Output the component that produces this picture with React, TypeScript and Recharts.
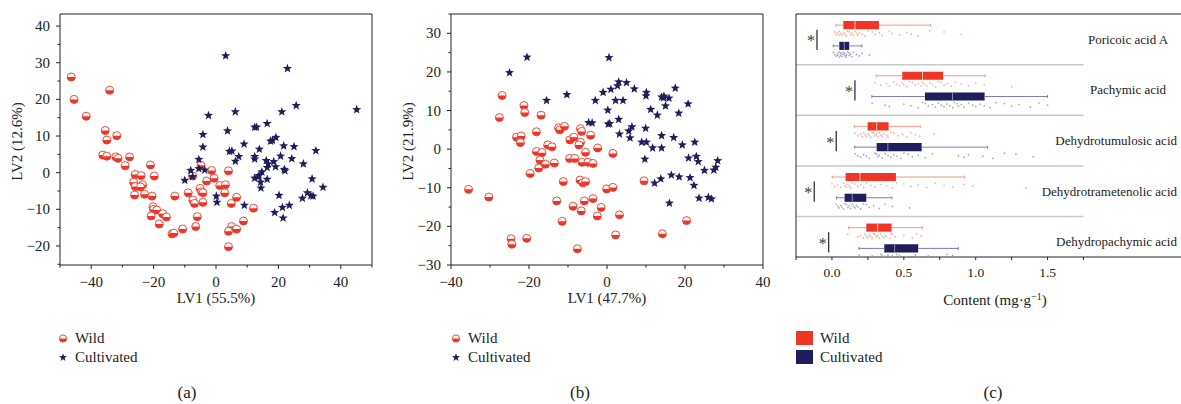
import { ScatterChart, Scatter, XAxis, YAxis, ReferenceLine, ReferenceArea } from 'recharts';

// PLS-DA scores, panel (a): [LV1, LV2]
const wildA: [number, number][] = [
  [-46.4, 26.1], [-45.5, 20], [-41.6, 15.4], [-34.1, 22.5], [-35.5, 11.5], [-35.0, 8.9], [-31.8, 10.1],
  [-36.3, 4.8], [-35.0, 4.5], [-32.1, 4.3], [-31.4, 3.9], [-27.7, 4.3], [-29.1, 1.9], [-21.0, 2.1],
  [-25.9, -0.5], [-24.0, -0.8], [-19.8, -0.9], [-26.4, -2.6], [-25.9, -3.8], [-23.5, -3.3], [-24.2, -3.9],
  [-26.1, -6.1], [-22.9, -5.9], [-20.5, -6.4], [-20.2, -9.3], [-20.0, -10], [-19.0, -10.2], [-20.8, -11.8],
  [-17.1, -11.2], [-15.9, -12.1], [-18.2, -14.0], [-14.1, -16.7], [-13.5, -16.5], [-10.7, -15.4],
  [-13.2, -6.4], [-8.9, -5.5], [-7.4, -7.5], [-6.9, -8.4], [-7.5, -0.9], [-6.0, -12.0], [-6.5, -14.7],
  [-4.8, 2.0], [-5.1, -4.3], [-4.6, -5.2], [-4.2, -5.5], [-4.2, -8.1], [-3.0, -2.3], [-1.4, 0.6],
  [-0.6, -1.5], [1.2, -3.5], [3.0, -3.3], [2.8, -5.5], [4.0, 0.5], [4.9, -8.4], [6.6, -6.7],
  [5.0, -14.7], [4.0, -16.0], [6.6, -15.4], [4.0, -20.2], [8.8, -13.2], [12.0, -9.7],
];
const cultA: [number, number][] = [
  [3.1, 31.9], [22.9, 28.4], [45.1, 17.2], [25.7, 18.3], [21.1, 16.6], [6.2, 16.6], [-2.4, 15.6],
  [16.4, 13.4], [12.4, 12.4], [13.0, 12.4], [3.7, 11.4], [-4.2, 10.4], [-4.2, 7.0], [4.3, 5.8],
  [5.1, 5.9], [9.0, 7.8], [17.5, 8.6], [18.1, 8.8], [19.2, 9.6], [21.7, 7.3], [25.0, 7.1], [32.0, 6.0],
  [13.9, 6.4], [7.3, 4.4], [6.2, 3.1], [12.4, 4.4], [12.4, 3.7], [20.7, 4.5], [24.3, 3.8], [16.1, 3.3],
  [16.7, 2.4], [18.5, 3.0], [16.4, 1.4], [19.1, 1.6], [21.9, 0.9], [22.1, 0.5], [28.0, 2.4], [14.7, 0.2],
  [13.8, -0.8], [13.4, -1.2], [12.4, -1.5], [16.4, -1.8], [14.3, -2.6], [14.4, -4.2], [30.8, -1.7],
  [34.3, -4.0], [29.3, -5.5], [30.4, -6.3], [31.1, -6.4], [27.7, -7.0], [20.2, -6.2], [23.5, -8.9],
  [21.3, -9.5], [18.8, -10.9], [21.5, -12.4], [9.1, -8.9], [0.1, -6.4], [0.3, -8.1], [-3.6, 0.7],
  [-5.5, 1.1], [-8.1, 0.6], [-7.5, -1.1], [-10.0, -2.1], [-5.5, 3.6],
];

// panel (b)
const wildB: [number, number][] = [
  [-26.9, 13.9], [-27.6, 8.2], [-35.5, -10.4], [-30.3, -12.4], [-21.3, 11.3], [-21.1, 9.5], [-16.9, 8.8],
  [-23.2, 3.1], [-22.0, 3.4], [-22.2, 1.7], [-18.1, 4.5], [-18.1, -0.6], [-16.7, -0.9], [-17.2, -2.8],
  [-17.5, -4.9], [-15.8, -3.9], [-19.7, -6.3], [-15.2, 1.1], [-14.1, 0.6], [-13.5, -3.6], [-12.4, 5.5],
  [-12.1, 5.0], [-10.9, 5.9], [-9.5, 2.4], [-8.5, 3.1], [-9.6, -2.4], [-8.3, -2.4], [-6.8, 5.3],
  [-6.5, 4.6], [-6.8, 1.8], [-7.2, 1.1], [-6.4, -3.4], [-4.9, -3.4], [-3.6, -3.7], [-4.2, 3.6],
  [-5.5, -0.8], [-2.4, 0.3], [1.5, -1.1], [-11.2, -8.4], [-6.9, -8.0], [-6.2, -8.7], [-5.5, -8.4],
  [-0.1, -10.3], [1.5, -9.9], [9.5, -8.2], [-12.9, -13.4], [-8.7, -14.8], [-5.8, -13.4], [-3.6, -12.8],
  [-1.5, -15.1], [-6.6, -16.0], [-11.5, -18.7], [-2.5, -17.3], [3.2, -17.0], [-24.6, -23.2],
  [-24.4, -24.6], [-20.6, -23.1], [-7.6, -25.8], [2.2, -22.2], [14.2, -21.9], [20.4, -18.5],
];
const cultB: [number, number][] = [
  [-25.0, 19.8], [-20.5, 23.8], [-15.5, 12.6], [-10.3, 14.1], [0.5, 23.7], [-3.0, 12.6], [-1.0, 14.7],
  [1.0, 15.5], [2.7, 16.4], [3.0, 17.4], [5.0, 17.2], [7.0, 15.6], [10.1, 14.7], [10.0, 13.8],
  [0.2, 10.1], [2.2, 12.6], [4.1, 12.6], [-4.7, 6.9], [-3.8, 6.8], [0.3, 6.5], [0.7, 6.6], [3.0, 7.7],
  [3.2, 3.9], [5.6, 4.7], [6.4, 5.8], [5.9, 2.9], [9.9, 5.4], [11.2, 10.3], [12.9, 8.8], [14.0, 13.5],
  [14.5, 13.3], [14.6, 13.7], [15.9, 13.2], [15.0, 11.2], [17.5, 15.8], [18.4, 9.3], [20.8, 11.7],
  [8.9, 1.8], [10.1, 1.8], [11.7, 0.3], [14.0, 3.5], [14.0, 0.3], [17.1, 3.0], [19.3, 1.1], [22.5, 1.8],
  [9.7, -2.6], [20.9, -2.3], [22.9, -1.9], [23.4, -3.2], [28.4, -3.0], [27.9, -4.7], [27.4, -5.4],
  [25.0, -5.5], [12.2, -8.8], [13.8, -7.7], [16.5, -6.7], [18.5, -7.2], [21.3, -7.4], [22.3, -9.4],
  [23.6, -12.7], [26.0, -12.5], [26.8, -12.9], [16.0, -14.0],
];

const aXTicks = [-50, -40, -30, -20, -10, 0, 10, 20, 30, 40, 50];
const aYTicks = [-25, -20, -15, -10, -5, 0, 5, 10, 15, 20, 25, 30, 35, 40];
const bXTicks = [-40, -30, -20, -10, 0, 10, 20, 30, 40];
const bYTicks = [-30, -25, -20, -15, -10, -5, 0, 5, 10, 15, 20, 25, 30, 35];

// panel (c): content, mg/g
const compounds = ['Poricoic acid A', 'Pachymic acid', 'Dehydrotumulosic acid', 'Dehydrotrametenolic acid', 'Dehydropachymic acid'];
// [min, q1, median, q3, max]
const wildStats = [
  [0.028, 0.079, 0.16, 0.327, 0.686],
  [0.308, 0.489, 0.63, 0.774, 1.066],
  [0.158, 0.248, 0.311, 0.394, 0.614],
  [0.002, 0.095, 0.195, 0.445, 0.923],
  [0.116, 0.239, 0.318, 0.415, 0.628],
];
const cultStats = [
  [0.009, 0.051, 0.086, 0.12, 0.209],
  [0.278, 0.647, 0.839, 1.062, 1.5],
  [0.158, 0.311, 0.389, 0.624, 1.083],
  [0.032, 0.088, 0.141, 0.239, 0.417],
  [0.188, 0.364, 0.436, 0.6, 0.879],
];
const wildSamples = [
  [0.02, 0.03, 0.04, 0.05, 0.05, 0.06, 0.07, 0.08, 0.09, 0.1, 0.11, 0.12, 0.13, 0.14, 0.15, 0.16, 0.17, 0.18, 0.19, 0.21, 0.23, 0.25, 0.28, 0.3, 0.33, 0.35, 0.4, 0.42, 0.47, 0.52, 0.55, 0.6, 0.68, 0.78, 0.9],
  [0.3, 0.34, 0.38, 0.4, 0.43, 0.45, 0.47, 0.49, 0.5, 0.52, 0.54, 0.56, 0.58, 0.6, 0.62, 0.63, 0.64, 0.66, 0.68, 0.7, 0.72, 0.74, 0.76, 0.78, 0.8, 0.83, 0.86, 0.9, 0.95, 1.0, 1.06, 1.25],
  [0.16, 0.18, 0.2, 0.21, 0.22, 0.23, 0.24, 0.25, 0.26, 0.27, 0.28, 0.29, 0.3, 0.31, 0.32, 0.33, 0.34, 0.35, 0.36, 0.38, 0.39, 0.41, 0.43, 0.46, 0.49, 0.52, 0.55, 0.58, 0.61, 0.71],
  [0.0, 0.02, 0.04, 0.06, 0.08, 0.09, 0.1, 0.11, 0.12, 0.13, 0.14, 0.16, 0.18, 0.2, 0.22, 0.24, 0.27, 0.3, 0.34, 0.38, 0.42, 0.45, 0.5, 0.55, 0.6, 0.66, 0.72, 0.78, 0.84, 0.92, 0.98, 1.35],
  [0.11, 0.18, 0.2, 0.22, 0.23, 0.24, 0.25, 0.26, 0.27, 0.28, 0.29, 0.3, 0.31, 0.32, 0.33, 0.34, 0.35, 0.36, 0.37, 0.38, 0.4, 0.41, 0.42, 0.44, 0.5, 0.56, 0.59, 0.62],
];
const cultSamples = [
  [0.01, 0.02, 0.03, 0.04, 0.04, 0.05, 0.05, 0.06, 0.06, 0.07, 0.07, 0.08, 0.08, 0.09, 0.09, 0.1, 0.1, 0.11, 0.12, 0.12, 0.13, 0.14, 0.15, 0.17, 0.19, 0.21, 0.26],
  [0.28, 0.37, 0.4, 0.5, 0.55, 0.6, 0.63, 0.65, 0.67, 0.7, 0.72, 0.74, 0.76, 0.78, 0.8, 0.82, 0.84, 0.85, 0.87, 0.88, 0.9, 0.92, 0.95, 0.98, 1.0, 1.03, 1.06, 1.1, 1.14, 1.2, 1.25, 1.3, 1.38, 1.44, 1.5],
  [0.16, 0.18, 0.2, 0.22, 0.24, 0.26, 0.3, 0.31, 0.32, 0.33, 0.35, 0.37, 0.39, 0.41, 0.43, 0.45, 0.48, 0.5, 0.53, 0.56, 0.6, 0.65, 0.7, 0.88, 0.92, 0.95, 1.05, 1.12, 1.2, 1.28, 1.4],
  [0.03, 0.04, 0.05, 0.06, 0.07, 0.08, 0.09, 0.1, 0.11, 0.12, 0.13, 0.14, 0.15, 0.16, 0.17, 0.18, 0.2, 0.22, 0.24, 0.26, 0.29, 0.33, 0.37, 0.42, 0.54],
  [0.19, 0.22, 0.26, 0.28, 0.3, 0.32, 0.34, 0.35, 0.36, 0.37, 0.38, 0.39, 0.4, 0.41, 0.42, 0.43, 0.44, 0.45, 0.47, 0.5, 0.52, 0.55, 0.58, 0.6, 0.63, 0.67, 0.72, 0.76, 0.8, 0.84, 0.88],
];
// x of the significance bracket for each compound
const sigX = [-0.104, 0.16, 0.03, -0.123, -0.023];
const cXTicks = [-0.25, 0, 0.25, 0.5, 0.75, 1, 1.25, 1.5, 1.75];

const FONT = '"Liberation Serif", "Times New Roman", serif';
const RED = '#ee3526';
const NAVY = '#1f1d5c';
const INK = '#222';

// row layout inside each compound section (section = 1 y unit)
const WILD_ROW = 0.22;
const WILD_PTS = 0.385;
const CULT_ROW = 0.63;
const CULT_PTS = 0.8;
const BOX_H = 0.08;
const JITTER = [-0.03, 0.02, -0.01, 0.04, -0.04, 0.0, 0.03, -0.02, 0.01, 0.05, -0.05];

const fmt = (v: number) => String(v).replace('-', '\u2212');

function makeXTick(isMajor: (v: number) => boolean, label: (v: number) => string, fontSize: number, majorLen: number, minorLen: number, dy: number) {
  return (p: any) => {
    const { x, y, payload } = p;
    const v = payload.value;
    const m = isMajor(v);
    return (
      <g>
        <line x1={x} y1={y} x2={x} y2={y + (m ? majorLen : minorLen)} stroke={INK} strokeWidth={1} />
        {m && (
          <text x={x} y={y + dy} textAnchor="middle" fontSize={fontSize} fontFamily={FONT} fill={INK}>
            {label(v)}
          </text>
        )}
      </g>
    );
  };
}

function makeYTick(isMajor: (v: number) => boolean) {
  return (p: any) => {
    const { x, y, payload } = p;
    const v = payload.value;
    const m = isMajor(v);
    return (
      <g>
        <line x1={x} y1={y} x2={x - (m ? 4 : 2.5)} y2={y} stroke={INK} strokeWidth={1} />
        {m && (
          <text x={x - 10} y={y + 5} textAnchor="end" fontSize={15} fontFamily={FONT} fill={INK}>
            {fmt(v)}
          </text>
        )}
      </g>
    );
  };
}

function HalfCircle(p: any) {
  const { cx, cy } = p;
  if (cx == null || cy == null) return <g />;
  const r = p.r ?? 4;
  return (
    <g>
      <circle cx={cx} cy={cy} r={r} fill="#fff" stroke={RED} strokeWidth={0.9} />
      <path d={`M${cx - r},${cy} A${r},${r} 0 0 0 ${cx + r},${cy} Z`} fill={RED} />
    </g>
  );
}

function starPoints(cx: number, cy: number, ro: number, ri: number) {
  const pts: string[] = [];
  for (let k = 0; k < 10; k++) {
    const a = (-90 + k * 36) * (Math.PI / 180);
    const r = k % 2 === 0 ? ro : ri;
    pts.push(`${(cx + r * Math.cos(a)).toFixed(2)},${(cy + r * Math.sin(a)).toFixed(2)}`);
  }
  return pts.join(' ');
}

function StarShape(p: any) {
  const { cx, cy } = p;
  if (cx == null || cy == null) return <g />;
  const ro = p.ro ?? 4.8;
  return <polygon points={starPoints(cx, cy, ro, ro * 0.42)} fill={NAVY} />;
}

function PlsPanel(props: {
  wild: [number, number][];
  cult: [number, number][];
  xDomain: [number, number];
  yDomain: [number, number];
  xTicks: number[];
  yTicks: number[];
  xTitle: string;
  yTitle: string;
}) {
  const { wild, cult, xDomain, yDomain, xTicks, yTicks, xTitle, yTitle } = props;
  return (
    <ScatterChart width={381} height={310} margin={{ top: 14, right: 9, bottom: 5, left: 0 }}>
      <XAxis
        type="number"
        dataKey="x"
        domain={xDomain}
        ticks={xTicks}
        interval={0}
        allowDataOverflow
        tickSize={0}
        tickMargin={0}
        tickLine={false}
        axisLine={{ stroke: INK }}
        height={40}
        tick={makeXTick((v) => v % 20 === 0, fmt, 15, 4, 2.5, 22)}
        label={{
          content: (lp: any) => {
            const vb = lp.viewBox;
            return (
              <text x={vb.x + vb.width / 2} y={vb.y + 38} textAnchor="middle" fontSize={15} fontFamily={FONT} fill={INK}>
                {xTitle}
              </text>
            );
          },
        }}
      />
      <YAxis
        type="number"
        dataKey="y"
        domain={yDomain}
        ticks={yTicks}
        interval={0}
        allowDataOverflow
        tickSize={0}
        tickMargin={0}
        tickLine={false}
        axisLine={{ stroke: INK }}
        width={60}
        tick={makeYTick((v) => v % 10 === 0)}
        label={{
          content: (lp: any) => {
            const vb = lp.viewBox;
            const cy = vb.y + vb.height / 2 + 2;
            return (
              <text x={vb.x + 22} y={cy} transform={`rotate(-90 ${vb.x + 22} ${cy})`} textAnchor="middle" fontSize={15} fontFamily={FONT} fill={INK}>
                {yTitle}
              </text>
            );
          },
        }}
      />
      <ReferenceLine y={yDomain[1]} stroke={INK} strokeWidth={1} />
      <ReferenceLine x={xDomain[1]} stroke={INK} strokeWidth={1} />
      <Scatter data={wild.map(([x, y]) => ({ x, y }))} shape={HalfCircle} isAnimationActive={false} />
      <Scatter data={cult.map(([x, y]) => ({ x, y }))} shape={StarShape} isAnimationActive={false} />
    </ScatterChart>
  );
}

function Dot(color: string) {
  return (p: any) => {
    const { cx, cy } = p;
    if (cx == null || cy == null) return <g />;
    return <circle cx={cx} cy={cy} r={0.9} fill={color} />;
  };
}

function StarMark(p: any) {
  const { cx, cy } = p;
  if (cx == null || cy == null) return <g />;
  return (
    <text x={cx - 6} y={cy + 7} textAnchor="middle" fontSize={16} fontFamily={FONT} fill="#3a3a3a">
      *
    </text>
  );
}

function BoxPanel() {
  const wildPts = wildSamples.flatMap((vals, i) =>
    vals.map((v, k) => ({ x: v, y: i + WILD_PTS + JITTER[k % JITTER.length] }))
  );
  const cultPts = cultSamples.flatMap((vals, i) =>
    vals.map((v, k) => ({ x: v, y: i + CULT_PTS + JITTER[(k + 4) % JITTER.length] }))
  );
  const sigMarks = sigX.map((x, i) => ({ x, y: i + 0.5 }));

  const boxes = (stats: number[][], row: number, fill: string, whisker: string, medianColor: string, key: string) =>
    stats.flatMap(([mn, q1, md, q3, mx], i) => {
      const yc = i + row;
      return [
        <ReferenceLine key={`${key}wl${i}`} segment={[{ x: mn, y: yc }, { x: q1, y: yc }]} stroke={whisker} strokeWidth={1} />,
        <ReferenceLine key={`${key}wr${i}`} segment={[{ x: q3, y: yc }, { x: mx, y: yc }]} stroke={whisker} strokeWidth={1} />,
        <ReferenceLine key={`${key}cl${i}`} segment={[{ x: mn, y: yc - 0.03 }, { x: mn, y: yc + 0.03 }]} stroke={whisker} strokeWidth={1} />,
        <ReferenceLine key={`${key}cr${i}`} segment={[{ x: mx, y: yc - 0.03 }, { x: mx, y: yc + 0.03 }]} stroke={whisker} strokeWidth={1} />,
        <ReferenceArea key={`${key}b${i}`} x1={q1} x2={q3} y1={yc - BOX_H} y2={yc + BOX_H} fill={fill} fillOpacity={1} stroke="none" />,
        <ReferenceLine key={`${key}m${i}`} segment={[{ x: md, y: yc - BOX_H }, { x: md, y: yc + BOX_H }]} stroke={medianColor} strokeWidth={1} />,
      ];
    });

  return (
    <ScatterChart width={406} height={310} margin={{ top: 14, right: 0, bottom: 3, left: 0 }}>
      <XAxis
        type="number"
        dataKey="x"
        domain={[-0.25, 2.435]}
        ticks={cXTicks}
        interval={0}
        allowDataOverflow
        tickSize={0}
        tickMargin={0}
        tickLine={false}
        axisLine={{ stroke: INK }}
        height={50}
        tick={makeXTick((v) => Math.abs(v * 2 - Math.round(v * 2)) < 1e-6, (v) => v.toFixed(1), 13.5, 3, 3, 20)}
        label={{
          content: (lp: any) => {
            const vb = lp.viewBox;
            return (
              <text x={vb.x + 199} y={vb.y + 48} textAnchor="middle" fontSize={15} fontFamily={FONT} fill={INK}>
                Content (mg·g
                <tspan dy={-5} fontSize={10}>−1</tspan>
                <tspan dy={5}>)</tspan>
              </text>
            );
          },
        }}
      />
      <YAxis
        type="number"
        dataKey="y"
        domain={[0, 4.8]}
        reversed
        ticks={[0.5, 1.5, 2.5, 3.5, 4.5]}
        interval={0}
        allowDataOverflow
        tickSize={0}
        tickMargin={0}
        tickLine={false}
        axisLine={{ stroke: INK }}
        width={20}
        tick={(p: any) => {
          const name = compounds[Math.floor(p.payload.value)];
          const long = name.length > 16;
          return (
            <text
              x={long ? p.x + 381 : p.x + 332}
              y={p.y + 4.5}
              textAnchor={long ? 'end' : 'middle'}
              fontSize={13}
              fontFamily={FONT}
              fill={INK}
            >
              {name}
            </text>
          );
        }}
      />
      <ReferenceLine y={0} stroke={INK} strokeWidth={1.2} />
      {[1, 2, 3, 4].map((s) => (
        <ReferenceLine key={`sep${s}`} segment={[{ x: -0.25, y: s }, { x: 1.75, y: s }]} stroke="#c9c9c9" strokeWidth={1.5} />
      ))}
      {sigX.map((x, i) => (
        <ReferenceLine key={`sig${i}`} segment={[{ x, y: i + 0.31 }, { x, y: i + 0.71 }]} stroke="#333" strokeWidth={1.3} />
      ))}
      {boxes(wildStats, WILD_ROW, RED, '#f49a86', '#f9c9bb', 'w')}
      {boxes(cultStats, CULT_ROW, NAVY, '#7d7db0', '#8c8cbb', 'c')}
      <Scatter data={wildPts} shape={Dot('#f5b3a3')} isAnimationActive={false} />
      <Scatter data={cultPts} shape={Dot('#a9a9c9')} isAnimationActive={false} />
      <Scatter data={sigMarks} shape={StarMark} isAnimationActive={false} />
    </ScatterChart>
  );
}

function LegendBlock({ left, kind }: { left: number; kind: 'marker' | 'square' }) {
  const items = [
    { label: 'Wild', color: RED },
    { label: 'Cultivated', color: NAVY },
  ];
  return (
    <div style={{ position: 'absolute', left, top: 329 }}>
      {items.map((it, i) => (
        <div key={it.label} style={{ display: 'flex', alignItems: 'center', height: 19, fontSize: 15, color: INK }}>
          {kind === 'square' ? (
            <svg width={24} height={19}>
              <rect x={0} y={2} width={17} height={14} fill={it.color} />
            </svg>
          ) : (
            <svg width={18} height={19}>
              {i === 0 ? <HalfCircle cx={6} cy={9.5} r={3.6} /> : <StarShape cx={6} cy={9.5} ro={4.2} />}
            </svg>
          )}
          <span>{it.label}</span>
        </div>
      ))}
    </div>
  );
}

export default function App() {
  return (
    <div style={{ position: 'absolute', left: 0, top: 0, width: 1181, height: 404, background: '#fff', fontFamily: FONT, overflow: 'hidden' }}>
      <div style={{ position: 'absolute', left: 0, top: 0 }}>
        <PlsPanel wild={wildA} cult={cultA} xDomain={[-50, 50]} yDomain={[-25.2, 43.3]} xTicks={aXTicks} yTicks={aYTicks} xTitle="LV1 (55.5%)" yTitle="LV2 (12.6%)" />
      </div>
      <div style={{ position: 'absolute', left: 391, top: 0 }}>
        <PlsPanel wild={wildB} cult={cultB} xDomain={[-40, 40]} yDomain={[-30, 35]} xTicks={bXTicks} yTicks={bYTicks} xTitle="LV1 (47.7%)" yTitle="LV2 (21.9%)" />
      </div>
      <div style={{ position: 'absolute', left: 776, top: 0 }}>
        <BoxPanel />
      </div>
      <LegendBlock left={57} kind="marker" />
      <LegendBlock left={450} kind="marker" />
      <LegendBlock left={796} kind="square" />
      {[
        { t: '(a)', x: 187 },
        { t: '(b)', x: 580 },
        { t: '(c)', x: 993 },
      ].map((s) => (
        <div key={s.t} style={{ position: 'absolute', left: s.x - 30, width: 60, top: 383, textAlign: 'center', fontSize: 17, color: INK }}>
          {s.t}
        </div>
      ))}
    </div>
  );
}
